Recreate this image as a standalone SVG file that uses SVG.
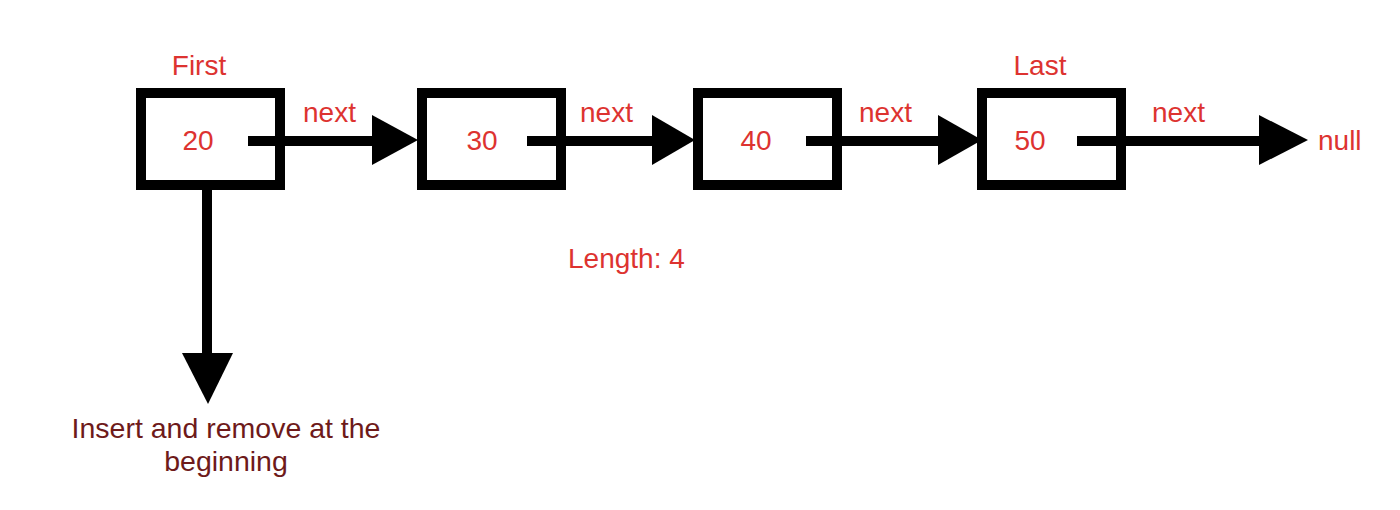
<svg xmlns="http://www.w3.org/2000/svg" width="1400" height="510" viewBox="0 0 1400 510">
<style>
.box{fill:#fff;stroke:#000;stroke-width:10}
.t{font-family:"Liberation Sans",Arial,sans-serif;font-size:28px;fill:#dd3330}
.c{text-anchor:middle}
.dk{fill:#6e1a1a;font-size:28.5px}
.ln{stroke:#000;stroke-width:10;fill:none}
.hd{fill:#000}
</style>
<rect width="1400" height="510" fill="#fff"/>
<g id="node-20">
<rect class="box" x="141" y="93" width="139" height="92"/>
<text class="t c" x="199" y="75">First</text>
<text class="t c" x="198" y="150">20</text>
</g>
<g id="node-30">
<rect class="box" x="422" y="93" width="139" height="92"/>
<text class="t c" x="482" y="150">30</text>
</g>
<g id="node-40">
<rect class="box" x="698" y="93" width="139" height="92"/>
<text class="t c" x="756" y="150">40</text>
</g>
<g id="node-50">
<rect class="box" x="982" y="93" width="139" height="92"/>
<text class="t c" x="1040" y="75">Last</text>
<text class="t c" x="1030" y="150">50</text>
</g>
<g id="connectors">
<line class="ln" x1="248" y1="141" x2="374" y2="141"/>
<polygon class="hd" points="372,115 418,140 372,165"/>
<line class="ln" x1="527" y1="141" x2="654" y2="141"/>
<polygon class="hd" points="652,115 695,140 652,165"/>
<line class="ln" x1="806" y1="141" x2="940" y2="141"/>
<polygon class="hd" points="938,115 982,140 938,165"/>
<line class="ln" x1="1077" y1="141" x2="1261" y2="141"/>
<polygon class="hd" points="1259,115 1308,140 1259,165"/>
<line class="ln" x1="207" y1="188" x2="207" y2="355"/>
<polygon class="hd" points="182,353 233,353 208,404"/>
<text class="t" x="303" y="122">next</text>
<text class="t" x="580" y="122">next</text>
<text class="t" x="859" y="122">next</text>
<text class="t" x="1152" y="122">next</text>
</g>
<g id="null">
<text class="t" x="1318" y="150">null</text>
</g>
<g id="length">
<text class="t" x="568" y="268">Length: 4</text>
</g>
<g id="note">
<text class="t c dk" x="226" y="438">Insert and remove at the</text>
<text class="t c dk" x="226" y="471">beginning</text>
</g>
</svg>
